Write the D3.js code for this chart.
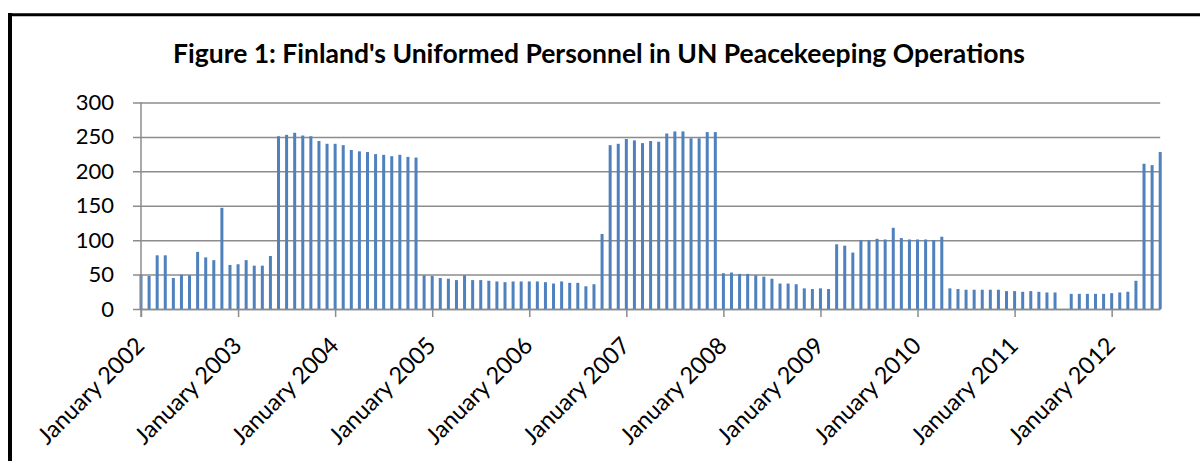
<!DOCTYPE html>
<html>
<head>
<meta charset="utf-8">
<script src="https://cdn.jsdelivr.net/npm/d3@7"></script>
<style>
  body { margin: 0; background: #fff; }
  svg { display: block; }
  .tick text { font-family: Lato, "Open Sans", sans-serif; }
</style>
</head>
<body>
<div id="chart"></div>
<script>
// monthly values, January 2002 .. July 2012 (null = no figure reported)
const years = [2002, 2003, 2004, 2005, 2006, 2007, 2008, 2009, 2010, 2011, 2012];
const personnel = [
  50, 48, 78, 78, 45, 50, 49, 83, 75, 71, 147, 64,          // 2002
  65, 71, 63, 63, 77, 251, 253, 256, 252, 251, 244, 240,    // 2003
  240, 238, 231, 229, 228, 225, 224, 222, 224, 221, 220, 49, // 2004
  48, 45, 44, 42, 49, 42, 42, 41, 40, 39, 40, 40,           // 2005
  40, 40, 39, 37, 40, 38, 38, 33, 36, 109, 238, 240,        // 2006
  247, 245, 241, 244, 243, 255, 258, 258, 248, 248, 257, 257, // 2007
  52, 53, 51, 51, 49, 47, 44, 37, 37, 36, 30, 29,           // 2008
  30, 29, 94, 92, 82, 100, 100, 102, 101, 118, 103, 101,    // 2009
  101, 101, 100, 105, 30, 29, 28, 28, 28, 28, 28, 26,       // 2010
  26, 25, 26, 25, 24, 24, null, 22, 22, 22, 22, 22,         // 2011
  23, 24, 25, 41, 211, 209, 228                             // 2012
];
const yTicks = [0, 50, 100, 150, 200, 250, 300];
const title = "Figure 1: Finland's Uniformed Personnel in UN Peacekeeping Operations";

const width = 1200, height = 461;
const plotLeft = 141, plotRight = 1160.2, plotTop = 102.5, plotBottom = 309;

const svg = d3.select("#chart").append("svg")
    .attr("width", width)
    .attr("height", height);

// frame round the figure (cut off at the right and bottom)
svg.append("line")
    .attr("x1", 10).attr("x2", 10).attr("y1", 13).attr("y2", height + 5)
    .attr("stroke", "#000").attr("stroke-width", 4);
svg.append("line")
    .attr("x1", 8).attr("x2", width + 5).attr("y1", 14.7).attr("y2", 14.7)
    .attr("stroke", "#000").attr("stroke-width", 3);

svg.append("text")
    .attr("x", 599)
    .attr("y", 63)
    .attr("text-anchor", "middle")
    .style("font-family", "Lato, 'Open Sans', sans-serif")
    .style("font-weight", "bold")
    .style("font-size", "26.5px")
    .text(title);

const x = d3.scaleLinear()
    .domain([0, personnel.length - 1])
    .range([plotLeft, plotRight]);

const y = d3.scaleLinear()
    .domain([0, 300])
    .range([plotBottom, plotTop]);

// y axis with gridlines
const yAxis = svg.append("g")
    .attr("transform", `translate(${plotLeft - 8}, 0)`)
    .call(d3.axisLeft(y)
        .tickValues(yTicks)
        .tickSize(-(plotRight - plotLeft + 8))
        .tickPadding(19));
yAxis.select(".domain").remove();
yAxis.selectAll(".tick line")
    .attr("stroke", "#8c8c8c")
    .attr("stroke-width", 1.5);
yAxis.selectAll(".tick text")
    .style("font-size", "22px")
    .attr("fill", "#000");

// bars
svg.append("g")
    .selectAll("rect")
    .data(personnel.map((v, i) => ({i: i, v: v})).filter(d => d.v != null))
    .join("rect")
    .attr("x", d => x(d.i) - 1.5)
    .attr("width", 3)
    .attr("y", d => y(d.v))
    .attr("height", d => y(0) - y(d.v))
    .attr("fill", "#4f81bd");

// vertical axis line
svg.append("line")
    .attr("x1", plotLeft).attr("x2", plotLeft)
    .attr("y1", plotTop).attr("y2", plotBottom + 8)
    .attr("stroke", "#8c8c8c").attr("stroke-width", 1.5);

// x axis, a major tick every January
const janIdx = years.map((yr, k) => k * 12);
const xAxis = svg.append("g")
    .attr("transform", `translate(0, ${plotBottom})`)
    .call(d3.axisBottom(x)
        .tickValues(janIdx)
        .tickSize(8)
        .tickSizeOuter(0)
        .tickFormat(""));
xAxis.select(".domain")
    .attr("stroke", "#8c8c8c")
    .attr("stroke-width", 1.5);
xAxis.selectAll(".tick line")
    .attr("stroke", "#8c8c8c")
    .attr("stroke-width", 1.5);

svg.append("g")
    .selectAll("text")
    .data(years)
    .join("text")
    .attr("transform", (d, k) => `translate(${x(janIdx[k]) + 5}, 347) rotate(-45)`)
    .attr("text-anchor", "end")
    .style("font-family", "Lato, 'Open Sans', sans-serif")
    .style("font-size", "23.5px")
    .text(d => "January " + d);
</script>
</body>
</html>
